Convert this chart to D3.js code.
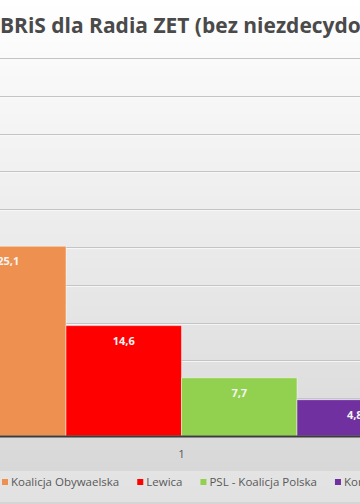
<!DOCTYPE html>
<html><head><meta charset="utf-8">
<script src="https://cdn.jsdelivr.net/npm/d3@7"></script>
<style>html,body{margin:0;padding:0;overflow:hidden;background:#fff}svg{display:block}</style>
</head><body>
<svg id="c" width="360" height="504"></svg>
<script>
const categories = ["1"];
const seriesNames = ["Koalicja Obywaelska", "Lewica", "PSL - Koalicja Polska", "Konfederacja"];
const seriesValues = [25.1, 14.6, 7.7, 4.8];
const seriesColors = ["#EE9150", "#FF0000", "#92D050", "#7030A0"];
const yTicks = [0, 5, 10, 15, 20, 25, 30, 35, 40, 45, 50];
const titleText = "BRiS dla Radia ZET (bez niezdecydowanych)";

const W = 360, H = 504;
const svg = d3.select("#c");
const defs = svg.append("defs");
const grad = defs.append("linearGradient").attr("id","bg").attr("x1",0).attr("y1",0).attr("x2",0).attr("y2",1);
grad.append("stop").attr("offset","0").attr("stop-color","#ffffff");
grad.append("stop").attr("offset","0.45").attr("stop-color","#ececec");
grad.append("stop").attr("offset","1").attr("stop-color","#d5d5d5");
svg.append("rect").attr("width",W).attr("height",H).attr("fill","url(#bg)");

// legend band
svg.append("rect").attr("x",0).attr("y",471).attr("width",W).attr("height",31).attr("fill","#ffffff").attr("opacity",0.3);

const y = d3.scaleLinear().domain([0,50]).range([436,58]);
const x0 = d3.scaleBand().domain(categories).range([-49.5, 412.5]).padding(0);
const x1 = d3.scaleBand().domain(seriesNames).range([0, x0.bandwidth()]).padding(0);

// gridlines
const grid = svg.append("g");
grid.selectAll("line.g").data(yTicks.filter(d=>d>0)).join("line")
  .attr("x1",0).attr("x2",W).attr("y1",d=>Math.round(y(d))+0.5).attr("y2",d=>Math.round(y(d))+0.5)
  .attr("stroke","#c4c4c4").attr("stroke-width",1);
grid.selectAll("line.h").data(yTicks.filter(d=>d>0)).join("line")
  .attr("x1",0).attr("x2",W).attr("y1",d=>Math.round(y(d))+1.5).attr("y2",d=>Math.round(y(d))+1.5)
  .attr("stroke","#fafafa").attr("stroke-width",1).attr("opacity",0.8);

// bars
const data = seriesNames.map((n,i)=>({name:n, value:seriesValues[i], color:seriesColors[i]}));
const g = svg.append("g").attr("transform",`translate(${x0("1")},0)`);
g.selectAll("rect").data(data).join("rect")
  .attr("x",d=>x1(d.name)).attr("width",x1.bandwidth())
  .attr("y",d=>y(d.value)).attr("height",d=>y(0)-y(d.value))
  .attr("fill",d=>d.color)
  .attr("stroke","rgba(255,255,255,0.45)").attr("stroke-width",1);
g.selectAll("text").data(data).join("text")
  .attr("x",d=>x1(d.name)+x1.bandwidth()/2).attr("y",d=>y(d.value)+19)
  .attr("text-anchor","middle").attr("font-family","'Open Sans', sans-serif")
  .attr("font-weight","bold").attr("font-size","11px").attr("fill","#f4f4f4")
  .text(d=>d.value.toFixed(1).replace(".",","));

// baseline
svg.append("line").attr("x1",0).attr("x2",W).attr("y1",y(0)+0.5).attr("y2",y(0)+0.5)
  .attr("stroke","#3c3c3c").attr("stroke-width",2);

// category axis label
svg.append("text").attr("x",x0("1")+x0.bandwidth()/2).attr("y",458)
  .attr("text-anchor","middle").attr("font-family","'Open Sans', sans-serif")
  .attr("font-size","11.5px").attr("fill","#595959").text(categories[0]);

// title
const t = svg.append("text").attr("x",0).attr("y",33)
  .attr("font-family","'Open Sans', sans-serif").attr("font-weight","bold")
  .attr("font-size","22px").attr("fill","#4a4a4a").text(titleText);
const sub = t.node().getSubStringLength(0, 34);
t.attr("font-size", (22*361/sub).toFixed(2)+"px");

// legend
const leg = svg.append("g");
let lx = 2;
data.forEach(d=>{
  leg.append("rect").attr("x",lx).attr("y",479).attr("width",6).attr("height",6).attr("fill",d.color);
  const tt = leg.append("text").attr("x",lx+9).attr("y",486)
    .attr("font-family","'Open Sans', sans-serif").attr("font-size","11.5px").attr("fill","#595959").text(d.name);
  lx += 9 + tt.node().getComputedTextLength() + 18;
});
</script>
</body></html>
